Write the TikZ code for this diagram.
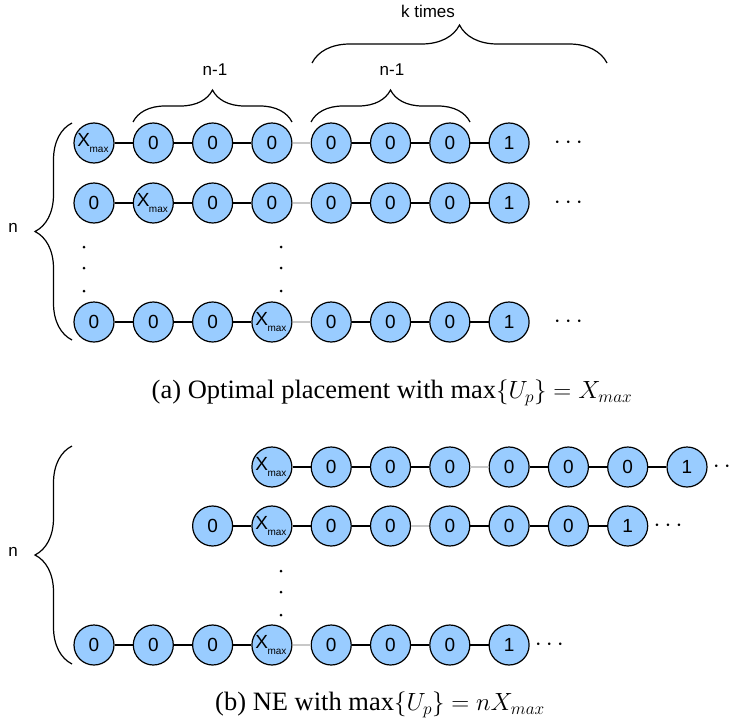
\documentclass[tikz,border=0pt]{standalone}
\usepackage{fontspec}
\setmainfont{Liberation Serif}
\setsansfont{Liberation Sans}
\usetikzlibrary{decorations.pathreplacing,positioning}

\definecolor{nodeblue}{RGB}{153,204,255}
\definecolor{gapgrey}{RGB}{200,200,200}

\tikzset{
    cell/.style={circle, draw, line width=1.2pt, fill=nodeblue, minimum size=40pt,
        inner sep=0pt, font=\sffamily\fontsize{19}{19}\selectfont},
    link/.style={line width=1.2pt},
    gap/.style={line width=1.2pt, draw=gapgrey},
    bracket/.style={decorate, decoration={brace, amplitude=#1}, line width=1.2pt},
    lbl/.style={font=\sffamily\fontsize{17}{17}\selectfont},
    more/.style={font=\fontsize{27}{27}\selectfont, inner sep=0pt},
    caption/.style={font=\fontsize{26.5}{26.5}\selectfont},
}
\newcommand{\xmax}{\kern-2pt X\kern-0.5pt\raisebox{-0.3em}{\fontsize{10}{10}\selectfont max}}

\begin{document}
\begin{tikzpicture}[x=1pt, y=-1pt]
    \useasboundingbox (0,0) rectangle (735,725);

    % Chains: name / y / first column / position of X_max
    \foreach \r/\yy/\first/\pos in {a1/143/1/1, a2/203/1/2, a3/322/1/4,
                                    b1/467/4/1, b2/526/3/2, b3/645/1/4} {
        \foreach \i in {1,...,8} {
            \pgfmathsetmacro{\xx}{94+(\first+\i-2)*59.3}
            \ifnum\i=\pos \def\lab{\xmax}\else\ifnum\i=8 \def\lab{1}\else\def\lab{0}\fi\fi
            \node[cell] (\r-\i) at (\xx,\yy) {\lab};
        }
        \foreach \i/\j in {1/2, 2/3, 3/4, 5/6, 6/7, 7/8} {
            \draw[link] (\r-\i) -- (\r-\j);
        }
        \draw[gap] (\r-4) -- (\r-5);
    }

    % Trailing dots
    \foreach \r in {a1, a2, a3} {
        \node[more, right=24pt of \r-8] (\r-more) {$\cdots$};
    }
    \foreach \r in {b1, b2, b3} {
        \node[more, right=5pt of \r-8] (\r-more) {$\cdots$};
    }

    % Vertical dots
    \foreach \x/\y in {84/247, 84/268, 84/291, 281/247, 281/268, 281/291,
                       281/571, 281/592, 281/615} {
        \fill (\x,\y) circle (1.5);
    }

    % Braces
    \draw[bracket=32pt] (133,122) -- (292,122);
    \draw[bracket=32pt] (311,122) -- (470,122);
    \draw[bracket=38pt] (312,63) -- (607,63);
    \draw[bracket=37pt] (72,340) -- (72,123);
    \draw[bracket=37pt] (72,664) -- (72,446);

    % Labels
    \node[lbl] (lbl-n1) at (215,70) {n-1};
    \node[lbl] (lbl-n2) at (392,70) {n-1};
    \node[lbl] (lbl-k) at (428,11) {k times};
    \node[lbl] (lbl-na) at (13,228) {n};
    \node[lbl] (lbl-nb) at (13,552) {n};

    % Captions
    \node[caption] (cap-a) at (392,393) {(a) Optimal placement with $\max\{U_p\} = X_{max}$};
    \node[caption] (cap-b) at (380,705) {(b) NE with $\max\{U_p\} = nX_{max}$};
\end{tikzpicture}
\end{document}
